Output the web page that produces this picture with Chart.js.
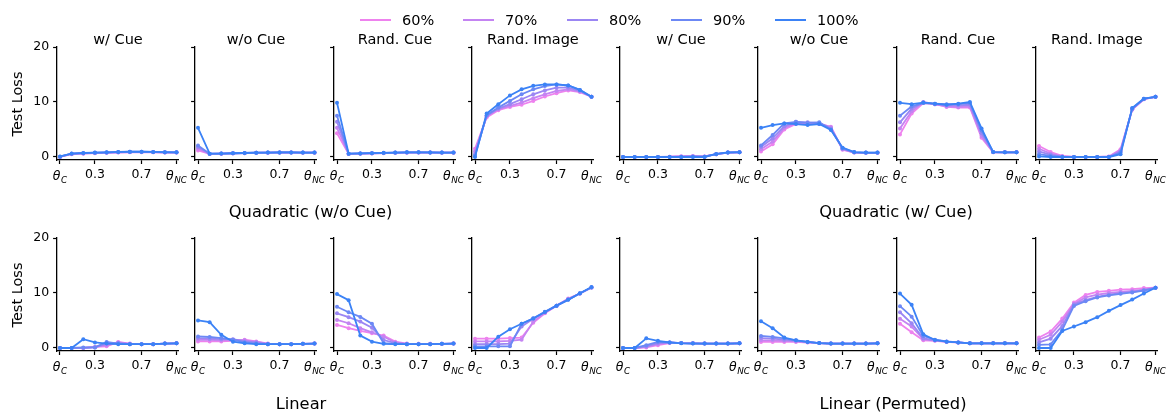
<!DOCTYPE html>
<html>
<head>
<meta charset="utf-8">
<script src="https://cdn.jsdelivr.net/npm/chart.js@4.4.0/dist/chart.umd.min.js"></script>
<style>
    body { margin: 0; background: #fff; }
    #fig { position: relative; width: 1166px; height: 413px; overflow: hidden; font-family: "DejaVu Sans", sans-serif; color: #000; }
    #fig canvas { position: absolute; left: 0; top: 0; }
    .txt { position: absolute; white-space: nowrap; line-height: 1; transform: translate(-50%, -50%); }
    .key { position: absolute; height: 2px; }
</style>
</head>
<body>
<div id="fig"></div>
<script>
// ---- data ----
const SERIES = ['60%', '70%', '80%', '90%', '100%'];
const COLORS = ['rgb(238,130,238)', 'rgb(196,132,242)', 'rgb(155,134,243)', 'rgb(108,136,245)', 'rgb(59,130,246)'];
const THETA = [0, 0.1, 0.2, 0.3, 0.4, 0.5, 0.6, 0.7, 0.8, 0.9, 1.0];
const X_TICKS = [0, 0.3, 0.7, 1.0];
const X_TICK_LABELS = ['θC', '0.3', '0.7', 'θNC'];
const Y_TICKS = [0, 10, 20];
const PANEL_TITLES = ['w/ Cue', 'w/o Cue', 'Rand. Cue', 'Rand. Image'];
const GROUP_TITLES = ['Quadratic (w/o Cue)', 'Quadratic (w/ Cue)', 'Linear', 'Linear (Permuted)'];

// each panel: rows = 60%, 70%, 80%, 90%, 100%
const quadNoCue_withCue = [
    [0.0, 0.5, 0.6, 0.7, 0.75, 0.8, 0.85, 0.85, 0.85, 0.8, 0.8],
    [0.0, 0.55, 0.65, 0.72, 0.78, 0.85, 0.9, 0.9, 0.88, 0.82, 0.8],
    [0.05, 0.6, 0.7, 0.75, 0.8, 0.88, 0.92, 0.92, 0.9, 0.85, 0.82],
    [0.05, 0.6, 0.7, 0.78, 0.82, 0.9, 0.95, 0.95, 0.92, 0.85, 0.85],
    [0.1, 0.62, 0.72, 0.8, 0.85, 0.92, 0.95, 0.95, 0.92, 0.88, 0.85]
];
const quadNoCue_noCue = [
    [1.2, 0.55, 0.6, 0.65, 0.7, 0.75, 0.78, 0.8, 0.8, 0.78, 0.78],
    [1.5, 0.55, 0.6, 0.66, 0.7, 0.76, 0.79, 0.8, 0.8, 0.79, 0.78],
    [1.8, 0.58, 0.62, 0.67, 0.72, 0.77, 0.8, 0.81, 0.81, 0.8, 0.8],
    [2.1, 0.6, 0.62, 0.68, 0.72, 0.78, 0.8, 0.82, 0.82, 0.8, 0.8],
    [5.3, 0.6, 0.62, 0.68, 0.72, 0.78, 0.8, 0.82, 0.82, 0.8, 0.8]
];
const quadNoCue_randCue = [
    [4.3, 0.55, 0.6, 0.65, 0.7, 0.75, 0.78, 0.8, 0.8, 0.78, 0.78],
    [5.3, 0.55, 0.62, 0.66, 0.72, 0.76, 0.8, 0.8, 0.8, 0.78, 0.78],
    [6.4, 0.58, 0.62, 0.68, 0.72, 0.78, 0.82, 0.82, 0.8, 0.8, 0.8],
    [7.5, 0.6, 0.64, 0.7, 0.74, 0.8, 0.84, 0.84, 0.82, 0.8, 0.8],
    [9.85, 0.6, 0.65, 0.7, 0.75, 0.8, 0.85, 0.85, 0.82, 0.8, 0.8]
];
const quadNoCue_randImage = [
    [1.5, 7.2, 8.5, 9.1, 9.5, 10.2, 11.0, 11.6, 12.1, 11.8, 10.95],
    [1.0, 7.4, 8.7, 9.3, 9.9, 10.7, 11.4, 12.0, 12.3, 11.9, 10.95],
    [0.5, 7.5, 8.8, 9.6, 10.5, 11.4, 12.1, 12.6, 12.6, 12.0, 10.95],
    [0.2, 7.6, 9.0, 10.2, 11.4, 12.3, 12.9, 13.2, 13.0, 12.2, 10.95],
    [0.0, 7.9, 9.6, 11.2, 12.3, 12.95, 13.2, 13.2, 13.0, 12.2, 10.95]
];
const quadCue_withCue = [
    [0, 0, 0, 0, 0.05, 0.15, 0.2, 0.1, 0.5, 0.8, 0.85],
    [0, 0, 0, 0, 0.05, 0.1, 0.15, 0.1, 0.5, 0.8, 0.85],
    [0, 0, 0, 0, 0, 0.05, 0.1, 0.05, 0.5, 0.8, 0.85],
    [0, 0, 0, 0, 0, 0, 0.05, 0.05, 0.5, 0.8, 0.85],
    [0, 0, 0, 0, 0, 0, 0, 0, 0.55, 0.82, 0.88]
];
const quadCue_noCue = [
    [1.0, 2.3, 5.0, 6.0, 6.0, 6.0, 5.5, 1.3, 0.8, 0.75, 0.75],
    [1.4, 2.8, 5.3, 6.2, 6.2, 6.1, 5.4, 1.4, 0.8, 0.75, 0.75],
    [1.8, 3.4, 5.6, 6.4, 6.3, 6.2, 5.2, 1.5, 0.85, 0.75, 0.75],
    [2.1, 4.0, 6.1, 6.4, 6.2, 6.3, 5.0, 1.6, 0.85, 0.8, 0.8],
    [5.3, 5.8, 6.1, 6.0, 5.8, 6.0, 4.9, 1.7, 0.9, 0.8, 0.8]
];
const quadCue_randCue = [
    [4.1, 7.9, 9.8, 9.6, 9.1, 9.0, 9.0, 3.5, 0.85, 0.85, 0.85],
    [5.2, 8.3, 10.0, 9.6, 9.2, 9.1, 9.2, 3.8, 0.85, 0.85, 0.85],
    [6.3, 8.8, 9.9, 9.6, 9.4, 9.4, 9.5, 4.3, 0.9, 0.85, 0.85],
    [7.5, 9.2, 9.8, 9.7, 9.6, 9.6, 9.8, 4.8, 0.9, 0.85, 0.85],
    [9.85, 9.6, 9.9, 9.7, 9.5, 9.7, 10.0, 5.2, 0.9, 0.85, 0.85]
];
const quadCue_randImage = [
    [2.0, 0.9, 0.2, 0, 0, 0, 0.1, 1.4, 8.6, 10.5, 10.95],
    [1.5, 0.6, 0.1, 0, 0, 0, 0.05, 1.2, 8.7, 10.5, 10.95],
    [1.0, 0.4, 0.05, 0, 0, 0, 0, 1.0, 8.7, 10.55, 10.95],
    [0.5, 0.2, 0, 0, 0, 0, 0, 0.8, 8.8, 10.6, 10.95],
    [0.1, 0, 0, 0, 0, 0, 0, 0.5, 8.9, 10.6, 10.95]
];
const linear_withCue = [
    [0, 0, 0, 0.2, 0.3, 1.1, 0.8, 0.7, 0.7, 0.8, 0.85],
    [0, 0, 0, 0.2, 0.5, 1.0, 0.75, 0.7, 0.7, 0.8, 0.85],
    [0, 0, 0, 0.1, 0.8, 0.9, 0.7, 0.7, 0.7, 0.8, 0.85],
    [0, 0, 0.1, 0.1, 1.1, 0.8, 0.7, 0.7, 0.7, 0.8, 0.85],
    [0, 0, 1.6, 1.0, 0.8, 0.7, 0.7, 0.7, 0.7, 0.8, 0.85]
];
const linear_noCue = [
    [1.2, 1.2, 1.2, 1.3, 1.5, 1.2, 0.8, 0.7, 0.7, 0.75, 0.8],
    [1.5, 1.5, 1.4, 1.5, 1.4, 1.1, 0.75, 0.7, 0.7, 0.75, 0.8],
    [1.8, 1.7, 1.6, 1.6, 1.2, 1.0, 0.7, 0.7, 0.7, 0.75, 0.8],
    [2.1, 2.0, 1.8, 1.5, 1.0, 0.8, 0.7, 0.7, 0.7, 0.75, 0.8],
    [5.0, 4.7, 2.4, 1.15, 0.85, 0.7, 0.7, 0.7, 0.7, 0.75, 0.8]
];
const linear_randCue = [
    [4.2, 3.6, 3.1, 2.7, 2.25, 1.15, 0.8, 0.75, 0.75, 0.75, 0.8],
    [5.1, 4.5, 3.6, 2.85, 2.05, 1.0, 0.75, 0.75, 0.75, 0.75, 0.8],
    [6.3, 5.6, 4.8, 3.7, 1.45, 0.9, 0.7, 0.7, 0.7, 0.75, 0.8],
    [7.5, 6.5, 5.65, 4.4, 0.9, 0.75, 0.7, 0.7, 0.7, 0.75, 0.8],
    [9.8, 8.7, 2.25, 1.15, 0.75, 0.7, 0.7, 0.7, 0.7, 0.75, 0.8]
];
const linear_randImage = [
    [1.7, 1.7, 1.7, 1.8, 1.9, 4.6, 6.3, 7.7, 9.0, 9.9, 11.0],
    [1.2, 1.2, 1.2, 1.3, 1.5, 4.8, 6.4, 7.7, 8.9, 9.9, 11.0],
    [0.7, 0.7, 0.7, 0.8, 3.9, 5.3, 6.5, 7.7, 8.8, 9.9, 11.0],
    [0.3, 0.3, 0.3, 0.3, 4.4, 5.4, 6.6, 7.7, 8.8, 9.9, 11.0],
    [0, 0, 2.05, 3.4, 4.4, 5.35, 6.55, 7.7, 8.75, 9.95, 11.1]
];
const linearPerm_withCue = [
    [0, 0, 0.1, 0.5, 0.9, 0.9, 0.85, 0.8, 0.8, 0.8, 0.85],
    [0, 0, 0.2, 0.7, 1.0, 0.9, 0.85, 0.8, 0.8, 0.8, 0.85],
    [0, 0, 0.3, 0.9, 1.0, 0.9, 0.85, 0.8, 0.8, 0.8, 0.85],
    [0, 0, 0.5, 1.1, 1.0, 0.9, 0.85, 0.8, 0.8, 0.8, 0.85],
    [0, 0, 1.75, 1.3, 1.0, 0.85, 0.8, 0.8, 0.8, 0.8, 0.85]
];
const linearPerm_noCue = [
    [1.1, 1.1, 1.1, 1.1, 1.0, 0.9, 0.8, 0.8, 0.8, 0.8, 0.85],
    [1.4, 1.4, 1.3, 1.2, 1.05, 0.9, 0.8, 0.8, 0.8, 0.8, 0.85],
    [1.8, 1.7, 1.5, 1.3, 1.1, 0.9, 0.8, 0.8, 0.8, 0.8, 0.85],
    [2.2, 2.0, 1.75, 1.4, 1.1, 0.9, 0.8, 0.8, 0.8, 0.8, 0.85],
    [4.85, 3.6, 1.9, 1.4, 1.1, 0.9, 0.8, 0.8, 0.8, 0.8, 0.85]
];
const linearPerm_randCue = [
    [4.4, 2.85, 1.4, 1.3, 1.1, 1.0, 0.85, 0.85, 0.85, 0.85, 0.85],
    [5.3, 3.9, 1.6, 1.35, 1.15, 1.0, 0.85, 0.85, 0.85, 0.85, 0.85],
    [6.5, 4.5, 1.75, 1.4, 1.15, 1.0, 0.85, 0.85, 0.85, 0.85, 0.85],
    [7.6, 5.7, 2.2, 1.5, 1.2, 1.0, 0.85, 0.85, 0.85, 0.85, 0.85],
    [9.9, 7.85, 2.5, 1.45, 1.15, 1.0, 0.85, 0.85, 0.85, 0.85, 0.85]
];
const linearPerm_randImage = [
    [1.9, 3.0, 5.35, 8.25, 9.65, 10.2, 10.4, 10.6, 10.7, 10.9, 10.95],
    [1.5, 2.4, 4.8, 8.0, 9.2, 9.7, 10.0, 10.2, 10.4, 10.6, 10.95],
    [1.0, 1.7, 4.0, 7.9, 8.7, 9.3, 9.7, 9.95, 10.2, 10.5, 10.95],
    [0.55, 0.65, 3.3, 7.65, 8.5, 9.2, 9.55, 9.85, 10.1, 10.45, 10.95],
    [0, 0, 3.1, 3.9, 4.7, 5.6, 6.75, 7.8, 8.8, 9.9, 10.95]
];

const PANELS = [
    [quadNoCue_withCue, quadNoCue_noCue, quadNoCue_randCue, quadNoCue_randImage,
     quadCue_withCue, quadCue_noCue, quadCue_randCue, quadCue_randImage],
    [linear_withCue, linear_noCue, linear_randCue, linear_randImage,
     linearPerm_withCue, linearPerm_noCue, linearPerm_randCue, linearPerm_randImage]
];

// ---- layout (pixels) ----
const W = 1166, H = 413;
const COL_X0 = [60, 198, 337, 475, 623, 761, 900, 1039];  // pixel of theta_C
const DATA_W = 116.5;                                       // pixels from theta_C to theta_NC
const X_MIN = -0.025, X_MAX = 1.02;
const Y_MIN = -0.55, Y_MAX = 20;
const ROW_TOP = [47, 238];
const ROW_BOTTOM = [160, 351];
const Y_AXIS_W = 40, X_AXIS_H = 30;   // fixed axis boxes (labels are clipped to them)
const TICK_FONT = { family: 'DejaVu Sans', size: 12.5 };

const fig = document.getElementById('fig');

function addText(text, cx, cy, size, rotate) {
    const d = document.createElement('div');
    d.className = 'txt';
    d.textContent = text;
    d.style.left = cx + 'px';
    d.style.top = cy + 'px';
    d.style.fontSize = size + 'px';
    if (rotate) d.style.transform = 'translate(-50%, -50%) rotate(-90deg)';
    fig.appendChild(d);
}

// fixed axis sizes so the plot area lands exactly where the padding says
function fixedFit(s) {
    if (s.isHorizontal()) s.height = X_AXIS_H; else s.width = Y_AXIS_W;
    s.paddingLeft = s.paddingRight = s.paddingTop = s.paddingBottom = 0;
}

// theta_C / theta_NC labels with a subscript
const thetaLabels = {
    id: 'thetaLabels',
    afterDraw(chart) {
        const ctx = chart.ctx;
        const xs = chart.scales.x;
        const base = chart.chartArea.bottom + 20;
        X_TICKS.forEach((v, i) => {
            const lab = X_TICK_LABELS[i];
            if (lab[0] !== 'θ') return;
            const sub = lab.slice(1);
            ctx.save();
            ctx.fillStyle = '#000';
            ctx.textAlign = 'left';
            ctx.textBaseline = 'alphabetic';
            ctx.font = 'italic 12.5px "DejaVu Sans"';
            const w1 = ctx.measureText('θ').width;
            ctx.font = 'italic 8.8px "DejaVu Sans"';
            const w2 = ctx.measureText(sub).width;
            const x = xs.getPixelForValue(v) - (w1 + w2 + 0.5) / 2;
            ctx.font = 'italic 12.5px "DejaVu Sans"';
            ctx.fillText('θ', x, base);
            ctx.font = 'italic 8.8px "DejaVu Sans"';
            ctx.fillText(sub, x + w1 + 0.5, base + 3);
            ctx.restore();
        });
    }
};

function makePanel(row, col, series) {
    const canvas = document.createElement('canvas');
    canvas.width = W;
    canvas.height = H;
    canvas.style.width = W + 'px';
    canvas.style.height = H + 'px';
    fig.appendChild(canvas);

    const left = COL_X0[col] + X_MIN * DATA_W;
    const right = COL_X0[col] + X_MAX * DATA_W;
    const top = ROW_TOP[row];
    const bottom = ROW_BOTTOM[row];
    const firstCol = col === 0;

    new Chart(canvas, {
        type: 'line',
        data: {
            datasets: series.map((vals, i) => ({
                label: SERIES[i],
                data: THETA.map((t, k) => ({ x: t, y: vals[k] })),
                borderColor: COLORS[i],
                backgroundColor: COLORS[i],
                borderWidth: 1.8,
                pointRadius: 2,
                pointBorderWidth: 0,
                tension: 0,
                clip: false,
                order: series.length - 1 - i
            }))
        },
        options: {
            responsive: false,
            animation: false,
            devicePixelRatio: 1,
            events: [],
            layout: {
                autoPadding: false,
                padding: { left: left - Y_AXIS_W, top: top, right: W - right, bottom: H - bottom - X_AXIS_H }
            },
            plugins: {
                legend: { display: false },
                tooltip: { enabled: false }
            },
            scales: {
                x: {
                    type: 'linear',
                    min: X_MIN,
                    max: X_MAX,
                    afterFit: fixedFit,
                    afterBuildTicks: s => { s.ticks = X_TICKS.map(v => ({ value: v })); },
                    ticks: {
                        autoSkip: false,
                        maxRotation: 0,
                        padding: 3,
                        color: '#000',
                        font: TICK_FONT,
                        callback: (v) => {
                            const lab = X_TICK_LABELS[X_TICKS.indexOf(v)];
                            return lab && lab[0] !== 'θ' ? lab : '';
                        }
                    },
                    grid: { drawOnChartArea: false, drawTicks: true, tickLength: 4, tickWidth: 1.2, tickColor: '#000' },
                    border: { display: true, color: '#000', width: 1.3 }
                },
                y: {
                    min: Y_MIN,
                    max: Y_MAX,
                    afterFit: fixedFit,
                    afterBuildTicks: s => { s.ticks = Y_TICKS.map(v => ({ value: v })); },
                    ticks: {
                        display: firstCol,
                        padding: 4,
                        color: '#000',
                        font: TICK_FONT,
                        callback: v => String(v)
                    },
                    grid: { drawOnChartArea: false, drawTicks: true, tickLength: 4, tickWidth: 1.2, tickColor: '#000' },
                    border: { display: true, color: '#000', width: 1.3 }
                }
            }
        },
        plugins: [thetaLabels]
    });

    // panel title on the top row only
    if (row === 0) addText(PANEL_TITLES[col % 4], (left + right) / 2, 39, 14.5);
    if (firstCol) addText('Test Loss', 16.5, (top + bottom) / 2, 14.5, true);
}

PANELS.forEach((rowPanels, r) => rowPanels.forEach((p, c) => makePanel(r, c, p)));

// group titles under each block of four panels
addText(GROUP_TITLES[0], 310.5, 212, 16.3);
addText(GROUP_TITLES[1], 896, 212, 16.3);
addText(GROUP_TITLES[2], 301, 404, 16.3);
addText(GROUP_TITLES[3], 893, 404, 16.3);

// legend across the top
const KEY_X = [360, 463, 567, 671, 775];
SERIES.forEach((name, i) => {
    const k = document.createElement('div');
    k.className = 'key';
    k.style.left = KEY_X[i] + 'px';
    k.style.top = '19px';
    k.style.width = '31px';
    k.style.background = COLORS[i];
    fig.appendChild(k);
    const t = document.createElement('div');
    t.className = 'txt';
    t.textContent = name;
    t.style.left = (KEY_X[i] + 42) + 'px';
    t.style.top = '20px';
    t.style.fontSize = '14.5px';
    t.style.transform = 'translate(0, -50%)';
    fig.appendChild(t);
});
</script>
</body>
</html>
